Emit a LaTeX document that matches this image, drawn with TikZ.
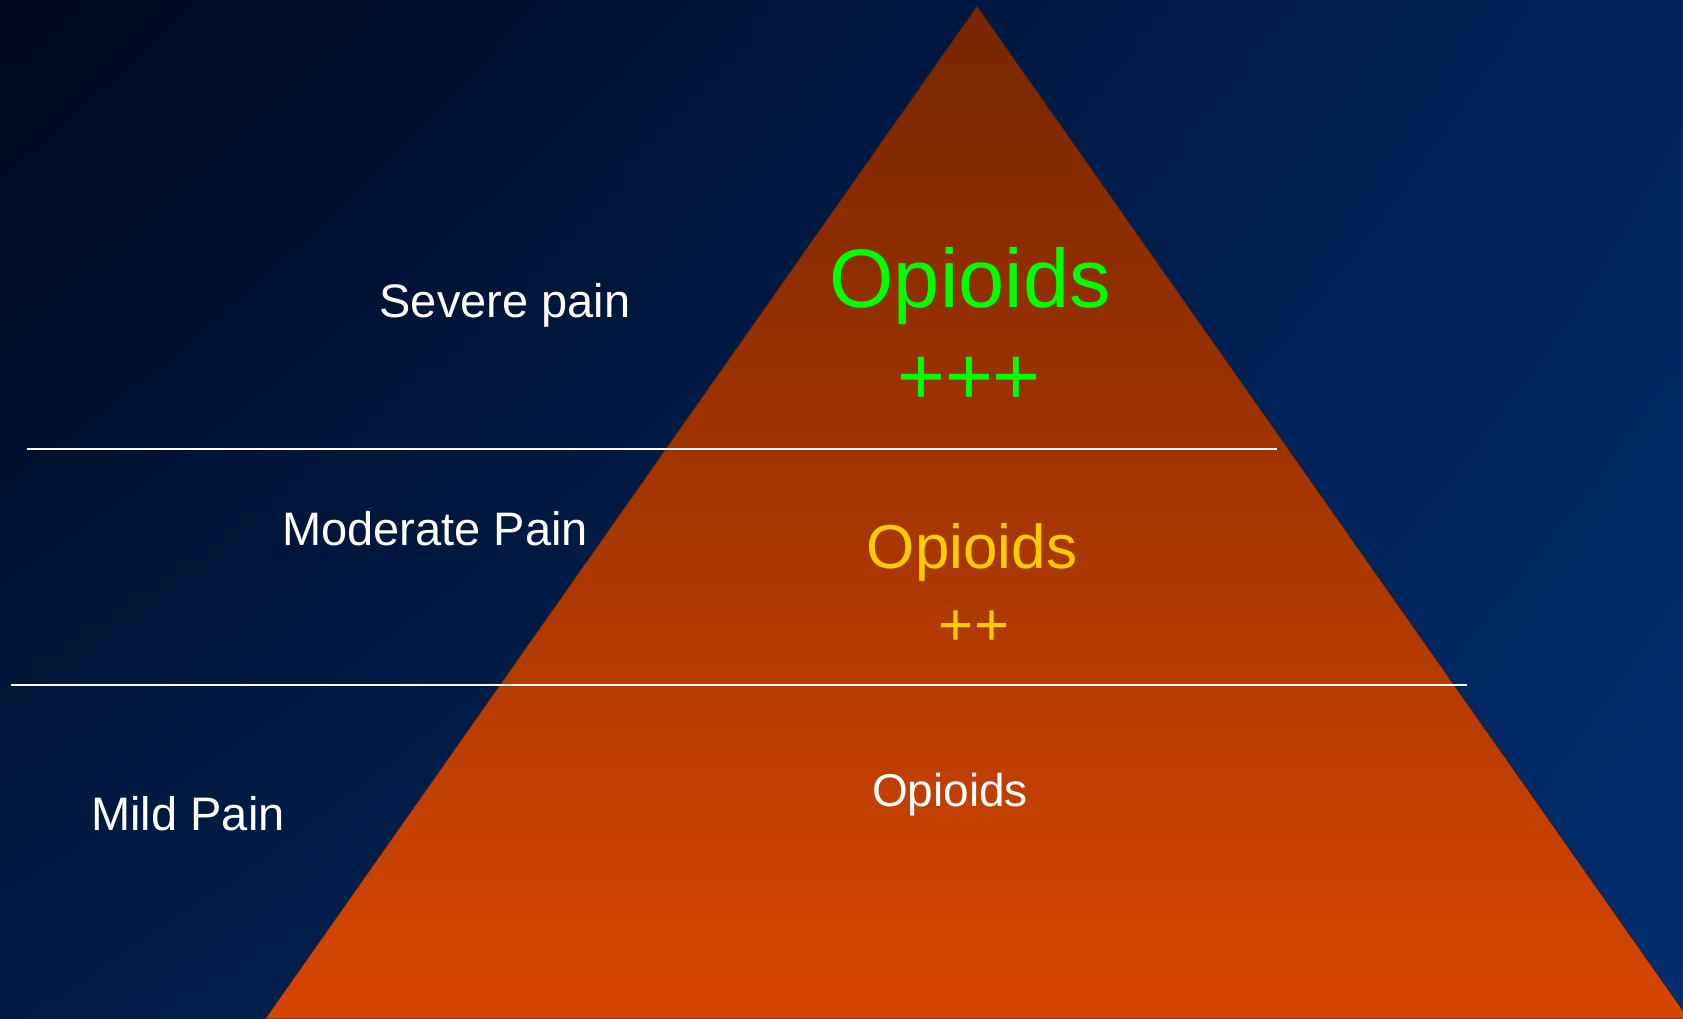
\documentclass[tikz,border=0pt]{standalone}
\usepackage{fontspec}
\setmainfont{Liberation Sans}
\usetikzlibrary{shadings}
\definecolor{bgUL}{RGB}{0,8,28}
\definecolor{bgUR}{RGB}{0,36,92}
\definecolor{bgLL}{RGB}{0,28,70}
\definecolor{bgLR}{RGB}{0,46,112}
\definecolor{triTop}{RGB}{118,38,0}
\definecolor{triBot}{RGB}{214,70,0}
\definecolor{triEdge}{RGB}{50,30,30}
\definecolor{optGreen}{RGB}{0,255,0}
\definecolor{optYellow}{RGB}{255,204,0}
\tikzset{
  lbl/.style={anchor=base, inner sep=0pt, text=white, font=\fontsize{47}{56}\selectfont},
  sepline/.style={draw=white, line width=1.5pt},
}
\begin{document}
\begin{tikzpicture}[x=1pt,y=-1pt]
\useasboundingbox (0,0) rectangle (1683,1019);
\shade[upper left=bgUL, upper right=bgUR, lower left=bgLL, lower right=bgLR] (0,0) rectangle (1683,1019);
\begin{scope}
\clip (0,0) rectangle (1683,1019);
\coordinate (apex) at (977,6);
\coordinate (bl) at (265,1019);
\coordinate (br) at (1689,1019);
\shade[top color=triTop, bottom color=triBot, draw=triEdge, line width=0.8pt] (apex) -- (bl) -- (br) -- cycle;
\end{scope}
% separator lines
\coordinate (l1a) at (27,449);
\coordinate (l1b) at (1277,449);
\coordinate (l2a) at (11,685);
\coordinate (l2b) at (1467,685);
\draw[sepline] (l1a) -- (l1b);
\draw[sepline] (l2a) -- (l2b);
% left labels
\node[lbl] (severe) at (505,317) {Severe pain};
\node[lbl] (moderate) at (435,545) {Moderate Pain};
\node[lbl] (mild) at (188,830) {Mild Pain};
% triangle labels
\node[lbl, text=optGreen, font=\fontsize{83}{96}\selectfont] (op3) at (970,307) {Opioids};
\node[lbl, text=optGreen, font=\fontsize{82}{96}\selectfont] (p3) at (969,404) {+++};
\node[lbl, text=optYellow, font=\fontsize{62}{72}\selectfont] (op2) at (972,568) {Opioids};
\node[lbl, text=optYellow, font=\fontsize{60}{72}\selectfont] (p2) at (974,645) {++};
\node[lbl, font=\fontsize{46}{56}\selectfont] (op1) at (950,806) {Opioids};
\end{tikzpicture}
\end{document}
